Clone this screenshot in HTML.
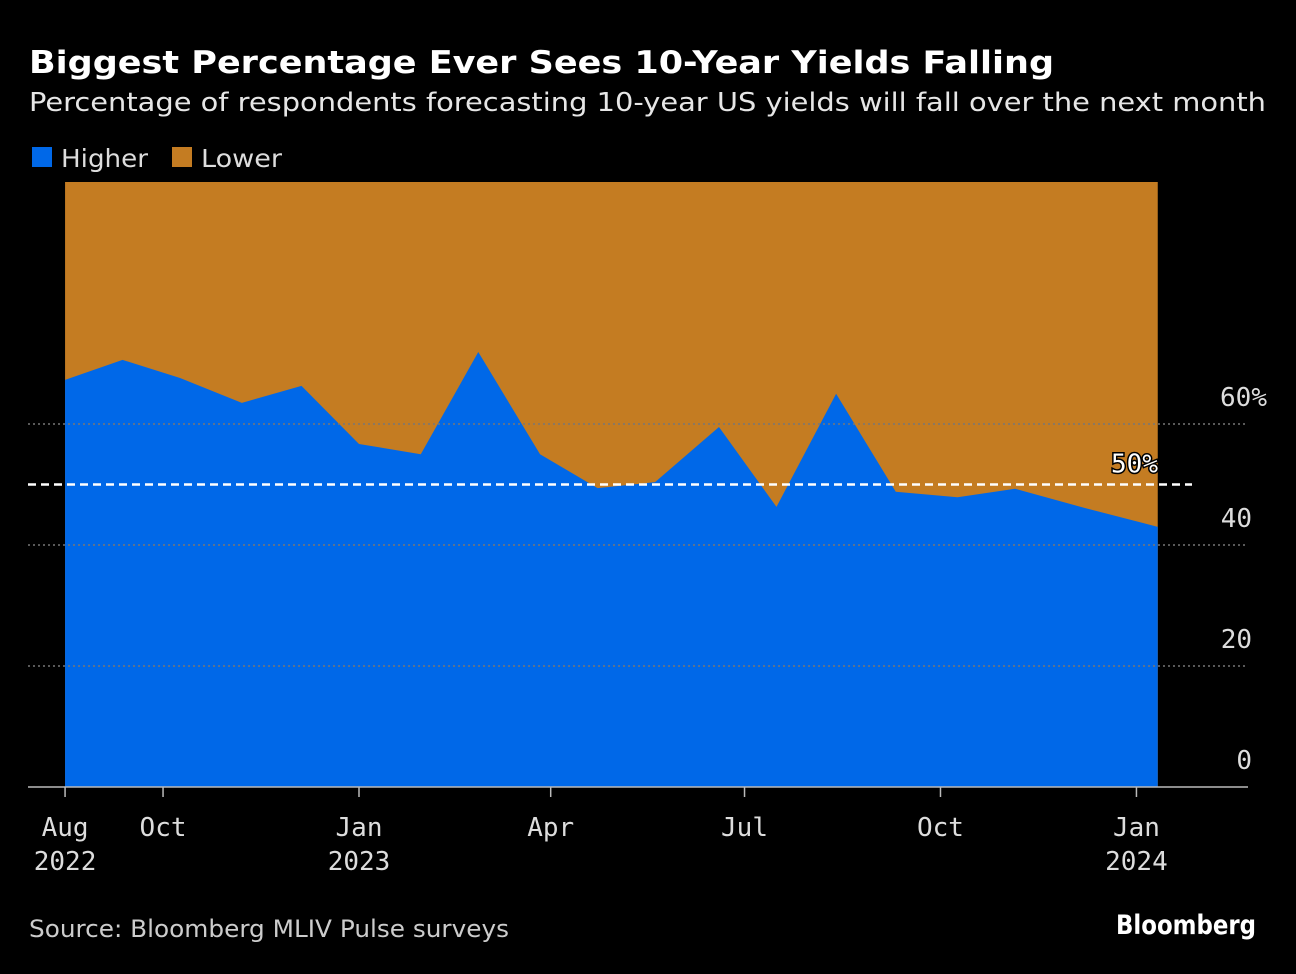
<!DOCTYPE html>
<html><head><meta charset="utf-8"><style>
body{margin:0;background:#000;width:1296px;height:970px;overflow:hidden;font-family:"DejaVu Sans",sans-serif;color:#fff}
svg text{font-family:"DejaVu Sans",sans-serif}
svg text.mono{font-family:"DejaVu Sans Mono",monospace}
</style></head><body>
<svg width="1296" height="970">
<text x="29" y="73" font-size="31" font-weight="bold" fill="#fff" textLength="1025" lengthAdjust="spacingAndGlyphs">Biggest Percentage Ever Sees 10-Year Yields Falling</text>
<text x="29" y="111" font-size="26" fill="#e6e6e6" textLength="1237" lengthAdjust="spacingAndGlyphs">Percentage of respondents forecasting 10-year US yields will fall over the next month</text>
<rect x="32" y="147" width="20" height="20" fill="#0068e8"/>
<text x="61" y="167" font-size="25" fill="#ddd" textLength="87" lengthAdjust="spacingAndGlyphs">Higher</text>
<rect x="172" y="147" width="20" height="20" fill="#c47c22"/>
<text x="201" y="167" font-size="25" fill="#ddd" textLength="81" lengthAdjust="spacingAndGlyphs">Lower</text>
<g id="plot"></g>
<text x="29" y="937" font-size="24" fill="#ccc" textLength="480" lengthAdjust="spacingAndGlyphs">Source: Bloomberg MLIV Pulse surveys</text>
<text x="1116" y="934" font-size="27" font-weight="bold" fill="#fff" textLength="140" lengthAdjust="spacingAndGlyphs">Bloomberg</text>
</svg>
<script>
const dates=["2022-08-16","2022-09-12","2022-10-09","2022-11-07","2022-12-05","2023-01-01","2023-01-30","2023-02-26","2023-03-27","2023-04-23","2023-05-20","2023-06-19","2023-07-16","2023-08-13","2023-09-10","2023-10-09","2023-11-05","2023-12-08","2024-01-11"];
const higher=[67.3,70.6,67.6,63.5,66.3,56.7,55.0,71.9,55.0,49.4,50.4,59.5,46.3,65.0,48.8,47.9,49.3,46.1,43.0];
const yTicks=[0,20,40,60];
const yTickLabels=["0","20","40","60%"];
const xTickDates=["2022-08-16","2022-10-01","2023-01-01","2023-04-01","2023-07-01","2023-10-01","2024-01-01"];
const xTickLabels=[["Aug","2022"],["Oct",""],["Jan","2023"],["Apr",""],["Jul",""],["Oct",""],["Jan","2024"]];
const refLine=50;
const NS="http://www.w3.org/2000/svg";
const g=document.getElementById("plot");
const t0=Date.parse("2023-01-01");
function x(d){return 359+(Date.parse(d)-t0)/86400000*2.13;}
function y(v){return 787-v*6.05;}
function mk(tag,attrs){const e=document.createElementNS(NS,tag);for(const k in attrs)e.setAttribute(k,attrs[k]);g.appendChild(e);return e;}
const x0=x(dates[0]),x1=x(dates[dates.length-1]);
let e=mk("rect",{x:x0,y:y(100),width:x1-x0,height:y(0)-y(100),fill:"#c47c22"});


let d="M"+x0+","+y(0);
dates.forEach((dt,i)=>{d+=" L"+x(dt)+","+y(higher[i]);});
d+=" L"+x1+","+y(0)+" Z";
e=mk("path",{d:d,fill:"#0068e8"});


yTicks.forEach((v,i)=>{
  if(v>0){e=mk("line",{x1:28,x2:1248,y1:y(v),y2:y(v),stroke:"#777","stroke-width":1.5,"stroke-dasharray":"2,3"});
  
  }
  const lbl=yTickLabels[i];
  e=mk("text",{x:lbl.indexOf("%")>=0?1267:1252,y:y(v)-18,"font-size":26,fill:"#ddd","text-anchor":"end","class":"mono"});
  e.textContent=lbl;
  
  
});
e=mk("line",{x1:28,x2:1248,y1:y(0),y2:y(0),stroke:"#bbb","stroke-width":1.5});


xTickDates.forEach((dt,i)=>{
  const xx=x(dt);
  e=mk("line",{x1:xx,x2:xx,y1:787,y2:797,stroke:"#bbb","stroke-width":1.5});
  
  
  e=mk("text",{x:xx,y:836,"font-size":26,fill:"#ddd","text-anchor":"middle","class":"mono"});
  e.textContent=xTickLabels[i][0];
  
  
  if(xTickLabels[i][1]){e=mk("text",{x:xx,y:870,"font-size":26,fill:"#ddd","text-anchor":"middle","class":"mono"});
  e.textContent=xTickLabels[i][1];
  
  }
});
e=mk("line",{x1:28,x2:1192,y1:y(refLine),y2:y(refLine),stroke:"#fff","stroke-width":2.5,"stroke-dasharray":"8,5"});


e=mk("text",{x:1158,y:y(refLine)-12,"font-size":26,fill:"#fff","text-anchor":"end",stroke:"#000","stroke-width":3,"paint-order":"stroke","class":"mono"});
e.textContent="50%";


</script>
</body></html>
